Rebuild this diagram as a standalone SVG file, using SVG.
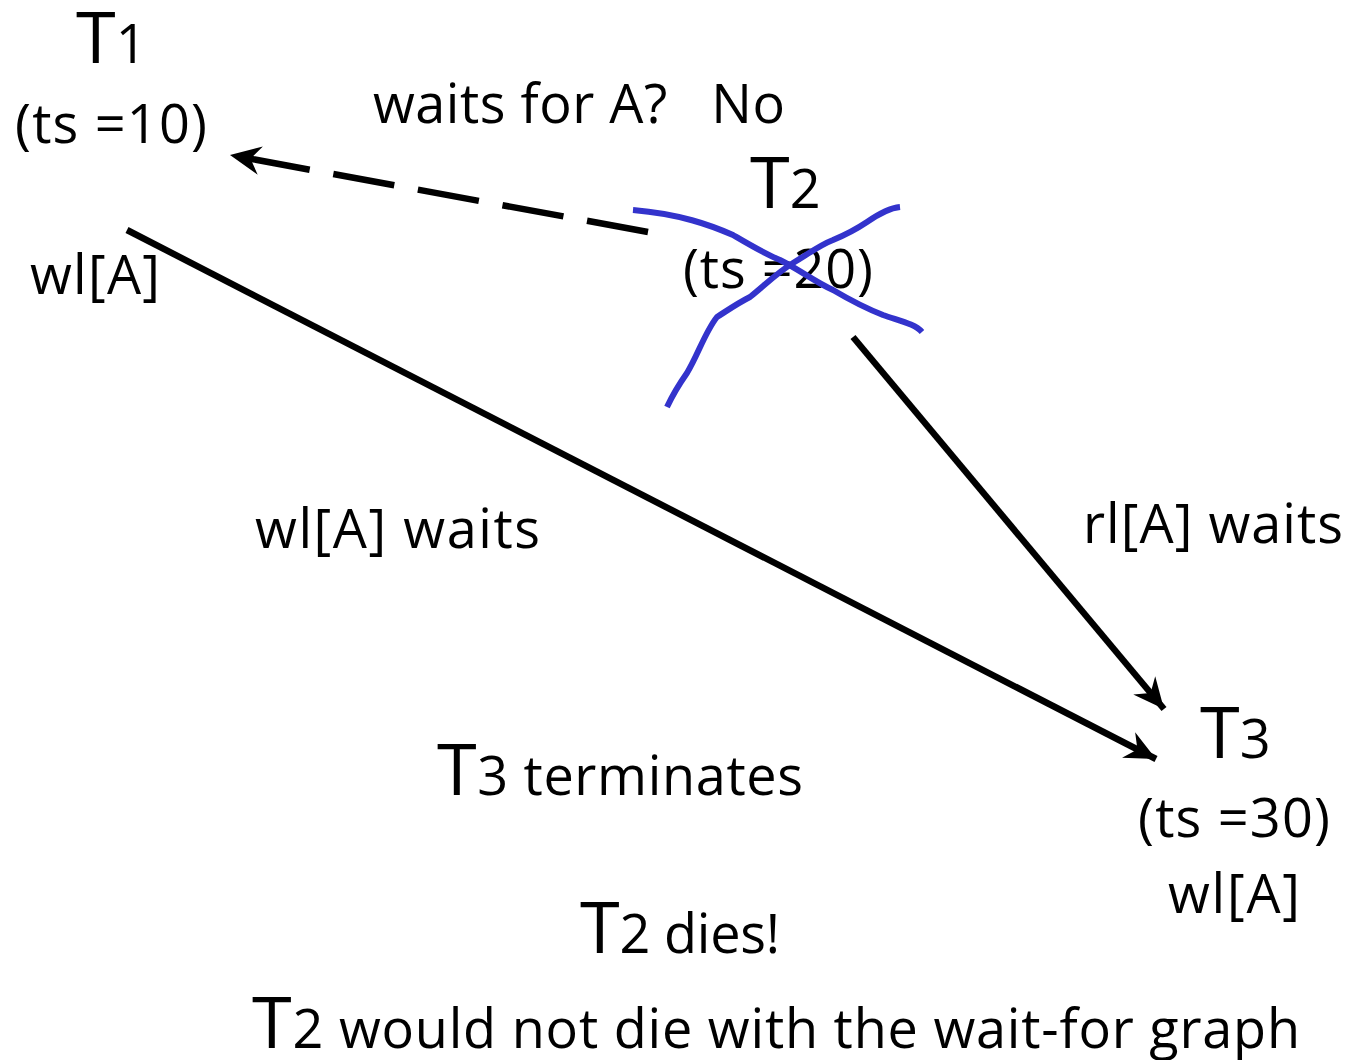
<svg xmlns="http://www.w3.org/2000/svg" width="1351" height="1060" viewBox="0 0 1351 1060">
<style>
text{font-family:"Open Sans","Liberation Sans",sans-serif;fill:#000;font-size:54px}
.big{font-size:72px}
.edge{stroke:#000;stroke-width:6.5;fill:none}
.cross{stroke:#3333cc;stroke-width:6;fill:none;stroke-linecap:butt;stroke-linejoin:round}
</style>
<defs>
<marker id="ah" markerUnits="userSpaceOnUse" markerWidth="44" markerHeight="44" viewBox="-34 -17 40 34" refX="0" refY="0" orient="auto">
<path d="M0,0 L-28,-13 L-19,0 L-28,13 Z" fill="#000"/>
</marker>
</defs>
<rect width="1351" height="1060" fill="#fff"/>
<g id="connectors">
<line class="edge" x1="648" y1="232" x2="230" y2="155" stroke-dasharray="62,24" marker-end="url(#ah)"/>
<line class="edge" x1="127" y1="230" x2="1156" y2="759" marker-end="url(#ah)"/>
<line class="edge" x1="853" y1="337" x2="1164" y2="709" marker-end="url(#ah)"/>
</g>
<g id="T1">
<text x="76" y="63"><tspan class="big">T</tspan><tspan>1</tspan></text>
<text x="15" y="143" textLength="192" lengthAdjust="spacing">(ts =10)</text>
<text x="30" y="294" textLength="130" lengthAdjust="spacing">wl[A]</text>
</g>
<g id="T2">
<text x="750" y="208"><tspan class="big">T</tspan><tspan>2</tspan></text>
<text x="683" y="288" textLength="190" lengthAdjust="spacing">(ts =20)</text>
</g>
<g id="cross">
<path class="cross" d="M633,210 C680,214 710,225 733,235 C750,245 765,254 780,260 C800,270 815,282 833,290 C850,300 865,308 883,315 C900,321 915,324 922,332"/>
<path class="cross" d="M667,407 C675,390 680,383 687,373 C698,355 705,332 717,317 C728,310 738,303 750,297 C765,285 778,272 793,263 C808,254 820,245 833,240 C850,233 858,228 867,222 C880,213 890,208 900,207"/>
</g>
<g id="T3">
<text x="1200" y="758"><tspan class="big">T</tspan><tspan>3</tspan></text>
<text x="1138" y="837" textLength="192" lengthAdjust="spacing">(ts =30)</text>
<text x="1168" y="913" textLength="132" lengthAdjust="spacing">wl[A]</text>
</g>
<g id="labels">
<text x="373" y="123" textLength="412" lengthAdjust="spacing" xml:space="preserve" style="white-space:pre">waits for A?   No</text>
<text x="255" y="548" textLength="285" lengthAdjust="spacing">wl[A] waits</text>
<text x="1083" y="543" textLength="260" lengthAdjust="spacing">rl[A] waits</text>
<text x="437" y="795" textLength="366" lengthAdjust="spacing"><tspan class="big">T</tspan><tspan>3 terminates</tspan></text>
<text x="580" y="953" textLength="200" lengthAdjust="spacing"><tspan class="big">T</tspan><tspan>2 dies!</tspan></text>
<text x="252" y="1048" textLength="1048" lengthAdjust="spacing"><tspan class="big">T</tspan><tspan>2 would not die with the wait-for graph</tspan></text>
</g>
</svg>
